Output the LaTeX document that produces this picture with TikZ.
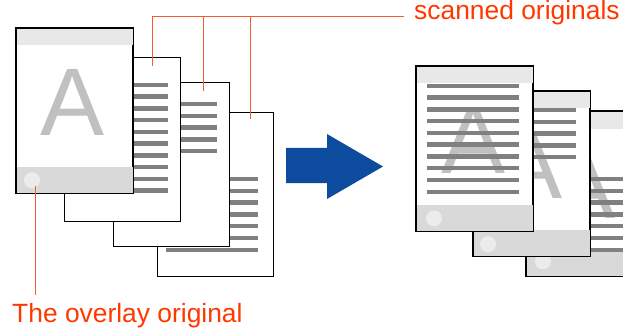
\documentclass[tikz,border=0pt]{standalone}
\usepackage{fontspec}
\setmainfont{Liberation Sans}
\usepackage{xcolor}
\usetikzlibrary{calc,positioning}
\definecolor{calloutred}{RGB}{255,56,0}
\definecolor{leaderred}{RGB}{240,92,52}
\definecolor{arrowblue}{RGB}{13,75,158}
\definecolor{bandtop}{RGB}{232,232,232}
\definecolor{bandbot}{RGB}{217,217,217}
\definecolor{dotgray}{RGB}{236,236,236}
\definecolor{glyphgray}{RGB}{192,192,192}
\definecolor{rulegray}{RGB}{128,128,128}
\tikzset{
  sheet/.style={draw=black, line width=1.3pt, fill=white, minimum width=116pt, minimum height=164pt, inner sep=0pt, anchor=north west},
  rim/.style={draw=black, line width=1.3pt},
  txtline/.style={draw=rulegray, line width=4.5pt},
  leader/.style={draw=leaderred, line width=1pt},
  callout/.style={text=calloutred, font=\fontsize{26.4}{30}\selectfont, inner sep=0pt},
  glyph/.style={text=glyphgray, font=\fontsize{96}{96}\selectfont, inner sep=0pt},
  dot/.style={circle, fill=dotgray, minimum size=16pt, inner sep=0pt}
}

\begin{document}
\begin{tikzpicture}[x=1pt,y=-1pt]
  \useasboundingbox (0,0) rectangle (623,331);
  \clip (0,0) rectangle (623,331);
  % scanned originals, back to front
  \node[sheet] (s4) at (157,112) {};
  \foreach \i in {0,...,6} \draw[txtline] ($(s4.north west)+(9,67+11.8*\i)$) -- ++(92,0);
  \node[sheet] (s3) at (113,82) {};
  \foreach \i in {0,...,4} \draw[txtline] ($(s3.north west)+(10,22+11.8*\i)$) -- ++(94,0);
  \node[sheet] (s2) at (64,57) {};
  \foreach \i in {0,...,9} \draw[txtline] ($(s2.north west)+(10,28+11.73*\i)$) -- ++(94,0);
  % the overlay original
  \node[sheet] (s1) at (16,28) {};
  \fill[bandtop] (s1.north west) rectangle ($(s1.north east)+(0,17)$);
  \node[glyph] (a1) at ($(s1.north west)+(57,74.5)$) {A};
  \fill[bandbot] ($(s1.south west)+(0,-26)$) rectangle (s1.south east);
  \node[dot] (d1) at ($(s1.south west)+(16,-13)$) {};
  \draw[rim] (s1.north west) rectangle (s1.south east);

  % arrow
  \fill[arrowblue] (286,148) -- (327,148) -- (327,134) -- (383,166.5) -- (327,199) -- (327,183) -- (286,183) -- cycle;

  % results
  \node[sheet] (sC) at (526,111) {};
  \fill[bandtop] (sC.north west) rectangle ($(sC.north east)+(0,18)$);
  \node[glyph] (aC) at ($(sC.north west)+(58,74.5)$) {A};
  \foreach \i in {0,...,6} \draw[txtline] ($(sC.north west)+(10,68+11.8*\i)$) -- ++(93,0);
  \fill[bandbot] ($(sC.south west)+(0,-24)$) rectangle (sC.south east);
  \node[dot] (dC) at ($(sC.south west)+(17,-15)$) {};
  \draw[rim] (sC.north west) rectangle (sC.south east);

  \node[sheet] (sB) at (473,91) {};
  \fill[bandtop] (sB.north west) rectangle ($(sB.north east)+(0,17)$);
  \node[glyph] (aB) at ($(sB.north west)+(58,74.5)$) {A};
  \foreach \i in {0,...,4} \draw[txtline] ($(sB.north west)+(10,19+11.8*\i)$) -- ++(93,0);
  \fill[bandbot] ($(sB.south west)+(0,-26)$) rectangle (sB.south east);
  \node[dot] (dB) at ($(sB.south west)+(15,-12)$) {};
  \draw[rim] (sB.north west) rectangle (sB.south east);

  \node[sheet] (sA) at (416,66) {};
  \fill[bandtop] (sA.north west) rectangle ($(sA.north east)+(0,17)$);
  \node[glyph] (aA) at ($(sA.north west)+(58,74.5)$) {A};
  \foreach \i in {0,...,9} \draw[txtline] ($(sA.north west)+(11,20+11.75*\i)$) -- ++(92,0);
  \fill[bandbot] ($(sA.south west)+(0,-26)$) rectangle (sA.south east);
  \node[dot] (dA) at ($(sA.south west)+(18,-13)$) {};
  \draw[rim] (sA.north west) rectangle (sA.south east);

  % labels
  \node[callout, anchor=mid west] (sc) at (414,17) {scanned originals};
  \node[callout, anchor=base west] (ov) at (12,322) {The overlay original};
  \coordinate (k2) at ($(s2.north west)+(88,9)$);
  \coordinate (k3) at ($(s3.north west)+(90,9)$);
  \coordinate (k4) at ($(s4.north west)+(93,7)$);
  \coordinate (k1) at ($(d1.center)+(3,6)$);
  \draw[leader, shorten >=10pt] (k2) |- (sc.mid west);
  \draw[leader] (k3) -- (k3 |- sc.mid west);
  \draw[leader] (k4) -- (k4 |- sc.mid west);
  \draw[leader, shorten >=8pt] (k1) -- (k1 |- ov.north);
\end{tikzpicture}
\end{document}
